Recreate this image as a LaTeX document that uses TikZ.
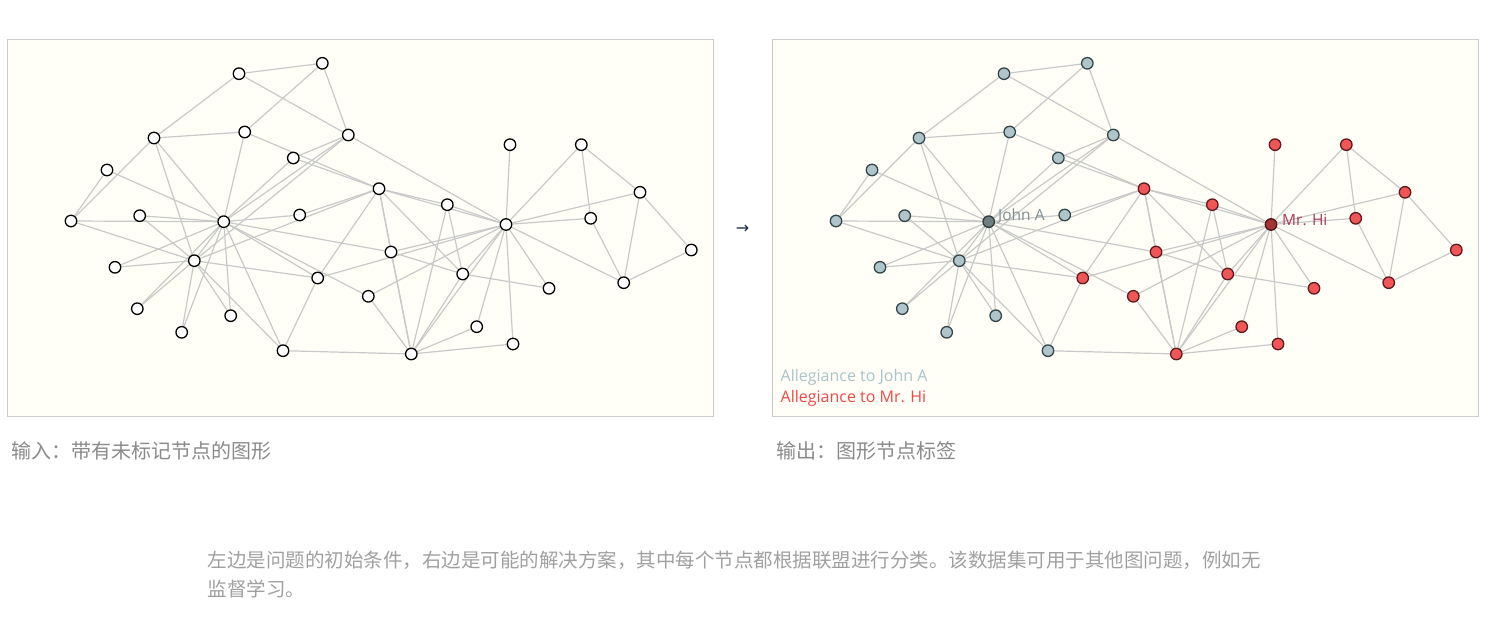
\documentclass[tikz,border=0pt]{standalone}
\usepackage{fontspec}
\setmainfont{Open Sans}
\newfontfamily\cjk{Noto Sans CJK SC}
\newfontfamily\symfont{DejaVu Sans}
\usetikzlibrary{backgrounds}
\definecolor{panelfill}{HTML}{FFFFF8}
\definecolor{panelline}{HTML}{CCCCCC}
\definecolor{edgecol}{HTML}{C9C9C9}
\definecolor{nfillw}{HTML}{FFFFFF}
\definecolor{ndraww}{HTML}{000000}
\definecolor{nfillb}{HTML}{AFC5C9}
\definecolor{ndrawb}{HTML}{34464A}
\definecolor{nfillB}{HTML}{6F7F81}
\definecolor{ndrawB}{HTML}{2E3A3C}
\definecolor{nfillr}{HTML}{F05658}
\definecolor{ndrawr}{HTML}{5E1A1C}
\definecolor{nfillR}{HTML}{A53434}
\definecolor{ndrawR}{HTML}{4A1212}
\definecolor{captcol}{HTML}{8A8A8A}
\definecolor{paracol}{HTML}{A0A0A0}
\definecolor{johncol}{HTML}{7E8C90}
\definecolor{hicol}{HTML}{A83A5C}
\definecolor{legb}{HTML}{A9C3CA}
\definecolor{legr}{HTML}{F04848}
\definecolor{arrowcol}{HTML}{1B2A49}
\tikzset{
  panel/.style={draw=panelline, fill=panelfill, line width=1pt},
  edge/.style={draw=edgecol, line width=1.2pt},
  gnode/.style={circle, inner sep=0pt, minimum size=11.5pt, line width=1.3pt},
  capt/.style={anchor=west, inner sep=0pt, text=captcol, font=\cjk\fontsize{20}{24}\selectfont},
  para/.style={anchor=west, inner sep=0pt, text=paracol, font=\cjk\fontsize{19.5}{24}\selectfont},
  lbl/.style={anchor=west, inner sep=0pt, font=\fontsize{15.5}{18}\selectfont},
  leg/.style={anchor=west, inner sep=0pt, font=\fontsize{16}{18}\selectfont},
}
\begin{document}
\begin{tikzpicture}[x=1pt,y=-1pt]
\useasboundingbox (0,0) rectangle (1498,620);
% nodes
\foreach \i/\x/\y/\c in {
 0/506/224.5/R, 1/411.3/354/r, 2/379/188.7/r, 3/462.7/274/r, 4/581.3/144.7/r,
 5/623.7/282.7/r, 6/640/192.3/r, 7/447.3/204.7/r, 8/317.7/278/r, 9/299.7/215/b,
 10/590.7/218.3/r, 11/510/144.7/r, 12/549/288.3/r, 13/391/252/r, 14/139.7/215.7/b,
 15/115/267.3/b, 16/691.3/250/r, 17/476.7/326.7/r, 18/137.3/308.7/b, 19/368.3/296.3/r,
 20/230.7/315.7/b, 21/513/344/r, 22/181.7/332.3/b, 23/154/138/b, 24/322.3/63.3/b,
 25/239/73.7/b, 26/107/170/b, 27/244.7/132/b, 28/293.3/158/b, 29/71/221/b,
 30/283/350.7/b, 31/348.3/135/b, 32/194.3/260.7/b, 33/223.7/221.7/B}
{
  \node[gnode, fill=nfillw, draw=ndraww] (l\i) at (\x,\y) {};
  \node[gnode, fill=nfill\c, draw=ndraw\c] (r\i) at (\x+765,\y) {};
}
\begin{scope}[on background layer]
  \draw[panel] (7,40) rectangle (713,416);
  \draw[panel] (772,40) rectangle (1478,416);
  \foreach \a/\b in {
   0/1,0/2,0/3,0/4,0/5,0/6,0/7,0/8,0/10,0/11,0/12,0/13,0/17,0/19,0/21,0/31,
   1/2,1/3,1/7,1/13,1/17,1/19,1/21,1/30,
   2/3,2/7,2/8,2/9,2/13,2/27,2/28,2/32,
   3/7,3/12,3/13,4/6,4/10,5/6,5/10,5/16,6/16,
   8/30,8/32,8/33,9/33,13/33,14/32,14/33,15/32,15/33,18/32,18/33,19/33,
   20/32,20/33,22/32,22/33,23/25,23/27,23/29,23/32,23/33,24/25,24/27,24/31,
   25/31,26/29,26/33,27/33,28/31,28/33,29/32,29/33,30/32,30/33,31/32,31/33,32/33}
  {
    \draw[edge] (l\a) -- (l\b);
    \draw[edge] (r\a) -- (r\b);
  }
\end{scope}
% labels
\node[lbl, text=johncol] (johnlbl) at (998,216.5) {John A};
\node[lbl, text=hicol] (hilbl) at (1282,219.5) {Mr. Hi};
\node[leg, text=legb] (legjohn) at (780.5,377) {Allegiance to John A};
\node[leg, text=legr] (leghi) at (780.5,398.5) {Allegiance to Mr. Hi};
\node[inner sep=0pt, text=arrowcol, font=\symfont\fontsize{16}{18}\selectfont] (arrow) at (742.5,229) {→};
% captions
\node[capt] (capin) at (11,451) {输入：带有未标记节点的图形};
\node[capt] (capout) at (776,451) {输出：图形节点标签};
\node[para] (para1) at (207.5,560) {左边是问题的初始条件，右边是可能的解决方案，其中每个节点都根据联盟进行分类。该数据集可用于其他图问题，例如无};
\node[para] (para2) at (207.5,589) {监督学习。};
\end{tikzpicture}
\end{document}
